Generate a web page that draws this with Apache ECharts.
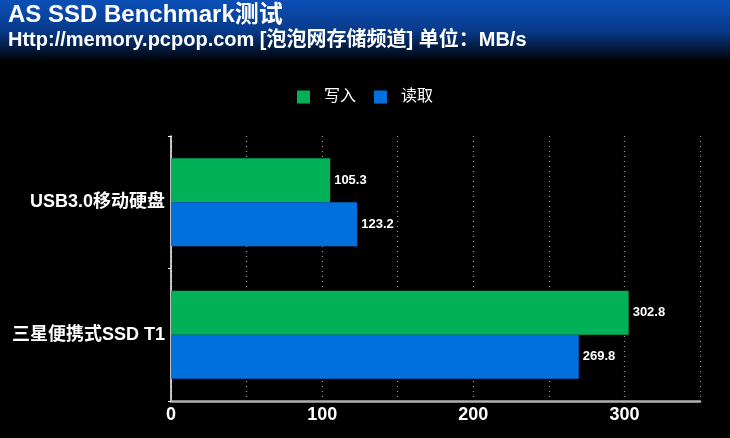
<!DOCTYPE html>
<html><head><meta charset="utf-8">
<script src="https://cdn.jsdelivr.net/npm/echarts@6/dist/echarts.min.js"></script>
<style>html,body{margin:0;padding:0;background:#000;}#c{width:730px;height:438px;}</style>
</head><body><div id="c"></div>
<script>
var categories = ['USB3.0移动硬盘', '三星便携式SSD T1'];
var writeValues = [105.3, 302.8];
var readValues = [123.2, 269.8];
var seriesNames = ['写入', '读取'];
var xTickLabels = [0, 100, 200, 300];

var chart = echarts.init(document.getElementById('c'));
var font = '"Liberation Sans", Arial, "Noto Sans CJK SC", sans-serif';
chart.setOption({
  backgroundColor: '#000',
  animation: false,
  textStyle: { fontFamily: font },
  graphic: [
    { type: 'rect', shape: { x: 0, y: 0, width: 730, height: 62 }, z: -10,
      style: { fill: new echarts.graphic.LinearGradient(0, 0, 0, 1, [
        { offset: 0, color: '#0b50b8' }, { offset: 0.5, color: '#083a8a' }, { offset: 1, color: '#000000' }]) } },
    { type: 'text', left: 8, top: 3, style: { text: 'AS SSD Benchmark测试', fill: '#fff', font: 'bold 24px ' + font } },
    { type: 'text', left: 8, top: 30, style: { text: 'Http://memory.pcpop.com [泡泡网存储频道] 单位：MB/s', fill: '#fff', font: 'bold 20px ' + font } }
  ],
  legend: {
    data: seriesNames, left: 292, top: 84, itemWidth: 13, itemHeight: 13, itemGap: 18,
    icon: 'rect',
    textStyle: { color: '#fff', fontSize: 16, padding: [0, 0, 0, 9] }
  },
  grid: { left: 171, right: 30, top: 136, bottom: 37, containLabel: false },
  xAxis: {
    type: 'value', min: 0, max: 350, interval: 50,
    axisLine: { show: true, lineStyle: { color: '#b0b0b0', width: 2.5 } },
    axisTick: { show: false },
    splitLine: { show: true, lineStyle: { color: '#9a9a9a', type: [1, 4], width: 1.2 } },
    axisLabel: { color: '#fff', fontSize: 18, fontWeight: 'bold', margin: 5,
      formatter: function (v) { return xTickLabels.indexOf(v) >= 0 ? String(v) : ''; } }
  },
  yAxis: {
    type: 'category', data: categories, inverse: true,
    axisLine: { show: true, onZero: false, lineStyle: { color: '#fff', width: 1.5 } },
    axisTick: { show: true, length: 3, lineStyle: { color: '#fff' } },
    axisLabel: { color: '#fff', fontSize: 18, fontWeight: 'bold', margin: 6 }
  },
  series: [
    { name: seriesNames[0], type: 'bar', data: writeValues, barWidth: 44, barGap: '0%',
      itemStyle: { color: '#00b157' },
      label: { show: true, position: 'right', color: '#fff', fontSize: 13, fontWeight: 'bold', distance: 4 } },
    { name: seriesNames[1], type: 'bar', data: readValues, barWidth: 44, barGap: '0%',
      itemStyle: { color: '#0070dd' },
      label: { show: true, position: 'right', color: '#fff', fontSize: 13, fontWeight: 'bold', distance: 4 } }
  ]
});
</script></body></html>
